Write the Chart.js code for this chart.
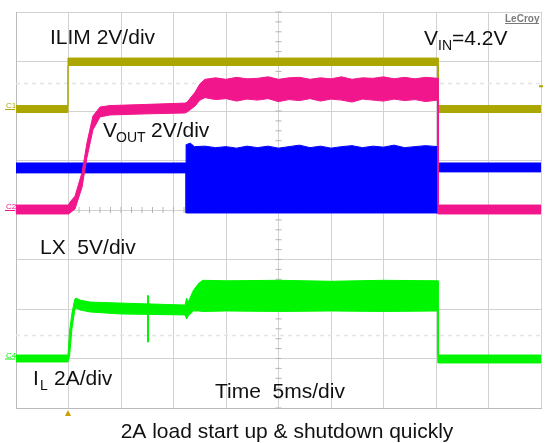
<!DOCTYPE html>
<html><head><meta charset="utf-8">
<script src="https://cdn.jsdelivr.net/npm/chart.js@4.4.1/dist/chart.umd.min.js"></script>
<style>html,body{margin:0;padding:0;background:#fff;}#c{display:block;}</style>
</head><body>
<canvas id="c" width="545" height="443"></canvas>
<script>
// time axis in ms (5 ms/div, 10 div), vertical in divisions (-4..4)
const timeTicks = [0,5,10,15,20,25,30,35,40,45,50];

// ILIM (2V/div) envelope
const ilimT  = [0, 4.95, 4.95, 40.2, 40.2, 50];
const ilimHi = [2.11, 2.11, 3.07, 3.07, 2.11, 2.11];
const ilimLo = [1.97, 1.97, 2.92, 2.92, 1.97, 1.97];

// VOUT (2V/div) envelope
const voutT  = [0, 5.0, 5.14, 5.62, 6.29, 6.76, 7.33, 8.0, 8.95, 12.0, 16.1, 16.3, 17.05, 17.52, 18.0,
                19, 20, 21, 22, 23, 24, 25, 26, 27, 28, 29, 30, 31, 32, 33, 34, 35, 36, 37, 38, 39, 40.2, 40.2, 50];
const voutHi = [0.10, 0.10, 0.16, 0.28, 0.76, 1.36, 1.90, 2.08, 2.11, 2.13, 2.16, 2.18, 2.38, 2.55, 2.64,
                2.67, 2.64, 2.68, 2.65, 2.66, 2.69, 2.64, 2.67, 2.68, 2.64, 2.67, 2.65, 2.69, 2.64, 2.67, 2.66, 2.69, 2.65, 2.68, 2.65, 2.68, 2.66, 0.10, 0.10];
const voutLo = [-0.08, -0.08, -0.06, 0.02, 0.46, 1.06, 1.62, 1.88, 1.92, 1.94, 1.96, 1.98, 2.10, 2.22, 2.27,
                2.23, 2.25, 2.20, 2.24, 2.22, 2.25, 2.19, 2.23, 2.21, 2.25, 2.20, 2.24, 2.22, 2.18, 2.24, 2.22, 2.20, 2.24, 2.21, 2.23, 2.19, 2.22, -0.08, -0.08];

// LX (5V/div) envelope
const lxT  = [0, 16.2, 16.2, 16.6, 17, 18, 19, 20, 21, 22, 23, 24, 25, 26, 27, 28, 29, 30, 31, 32, 33, 34, 35, 36, 37, 38, 39, 40.2, 40.2, 50];
const lxHi = [0.95, 0.95, 1.32, 1.35, 1.28, 1.29, 1.26, 1.28, 1.25, 1.29, 1.26, 1.29, 1.25, 1.28, 1.31, 1.26, 1.29, 1.25, 1.28, 1.30, 1.26, 1.29, 1.27, 1.31, 1.26, 1.28, 1.30, 1.28, 0.95, 0.95];
const lxLo = [0.75, 0.75, -0.06, -0.06, -0.06, -0.06, -0.06, -0.06, -0.06, -0.06, -0.06, -0.06, -0.06, -0.06, -0.06, -0.06, -0.06, -0.06, -0.06, -0.06, -0.06, -0.06, -0.06, -0.06, -0.06, -0.06, -0.06, -0.06, 0.77, 0.77];

// IL (2A/div) envelope
const ilT  = [0, 4.95, 5.1, 5.33, 5.6, 5.71, 6.1, 7.05, 9.9, 16.1, 16.25, 16.4, 16.9, 17.4, 17.8, 20, 25, 30, 35, 40.2, 40.2, 50];
const ilHi = [-2.93, -2.93, -2.45, -2.08, -1.80, -1.78, -1.82, -1.86, -1.88, -1.92, -1.78, -1.86, -1.62, -1.48, -1.42, -1.43, -1.42, -1.44, -1.42, -1.43, -2.93, -2.93];
const ilLo = [-3.07, -3.07, -2.95, -2.40, -2.02, -1.98, -2.02, -2.06, -2.10, -2.12, -2.20, -2.14, -2.04, -2.04, -2.05, -2.04, -2.05, -2.04, -2.05, -2.04, -3.09, -3.09];
// IL glitch
const ilSpikeT = [12.57, 12.57];
const ilSpikeV = [-1.72, -2.67];

const colIlim = '#aba700';
const colVout = '#f2168c';
const colLx   = '#0000ff';
const colIl   = '#00f500';

function pts(t, v){ return t.map((x,i)=>({x:x, y:v[i]})); }
function band(label, t, hi, lo, color, order){
  return [
    {label:label+' hi', data:pts(t,hi), borderColor:color, backgroundColor:color, borderWidth:1, fill:false, order:order},
    {label:label+' lo', data:pts(t,lo), borderColor:color, backgroundColor:color, borderWidth:1, fill:'-1', order:order}
  ];
}

const datasets = [].concat(
  band('ILIM', ilimT, ilimHi, ilimLo, colIlim, 4),
  band('VOUT', voutT, voutHi, voutLo, colVout, 1),
  band('LX', lxT, lxHi, lxLo, colLx, 3),
  band('IL', ilT, ilHi, ilLo, colIl, 2),
  [{label:'IL spike', data:pts(ilSpikeT, ilSpikeV), borderColor:colIl, borderWidth:2, fill:false, order:2}]
);

const FONT = '"Liberation Sans", Arial, sans-serif';

const scopeDecor = {
  id:'scopeDecor',
  beforeDatasetsDraw(chart){
    const {ctx, scales:{x,y}, chartArea:a} = chart;
    ctx.save();
    // faint reference dashes
    ctx.strokeStyle = '#e4e4e4'; ctx.lineWidth = 1.5; ctx.setLineDash([4,4]);
    [2.57, -2.53].forEach(v=>{ const py = Math.round(y.getPixelForValue(v))+0.5; ctx.beginPath(); ctx.moveTo(a.left,py); ctx.lineTo(a.right,py); ctx.stroke(); });
    ctx.setLineDash([]);
    // minor ticks on centre axes
    ctx.strokeStyle = '#b4b4b4'; ctx.lineWidth = 1;
    const cx = x.getPixelForValue(25), cy = y.getPixelForValue(0);
    for (let v=-4; v<=4.001; v+=0.2){ const py = y.getPixelForValue(v); ctx.beginPath(); ctx.moveTo(cx-3,py); ctx.lineTo(cx+3,py); ctx.stroke(); }
    for (let t=0; t<=50.001; t+=1){ const px = x.getPixelForValue(t); ctx.beginPath(); ctx.moveTo(px,cy-3); ctx.lineTo(px,cy+3); ctx.stroke(); }
    ctx.restore();
  },
  afterDraw(chart){
    const {ctx, scales:{x,y}, chartArea:a} = chart;
    ctx.save();
    ctx.fillStyle = '#111';
    ctx.textBaseline = 'alphabetic';
    ctx.textAlign = 'left';
    const big = '21px '+FONT, small = '14px '+FONT;
    ctx.font = big; ctx.fillText('ILIM 2V/div', 50, 44);
    // VOUT
    ctx.font = big; ctx.fillText('V', 103, 137);
    ctx.font = small; ctx.fillText('OUT', 116, 142);
    ctx.font = big; ctx.fillText('2V/div', 151, 137);
    // VIN
    ctx.font = big; ctx.fillText('V', 424, 45);
    ctx.font = small; ctx.fillText('IN', 438, 50);
    ctx.font = big; ctx.fillText('=4.2V', 452, 45);
    // LX
    ctx.font = big; ctx.fillText('LX  5V/div', 40, 254);
    // IL
    ctx.font = big; ctx.fillText('I', 33, 385);
    ctx.font = small; ctx.fillText('L', 40, 390);
    ctx.font = big; ctx.fillText('2A/div', 54, 385);
    // Time
    ctx.font = big; ctx.fillText('Time  5ms/div', 215, 398);
    // caption
    ctx.textAlign = 'center';
    ctx.fillText('2A load start up & shutdown quickly', 287, 438);
    // LeCroy logo
    ctx.textAlign = 'left';
    ctx.fillStyle = '#7a7a7a'; ctx.font = 'bold 10px '+FONT;
    ctx.fillText('LeCroy', 505, 22);
    ctx.fillRect(505, 23, 34, 1);
    // channel markers
    ctx.font = '8px '+FONT;
    [['C1', colIlim, 2.04], ['C2', colVout, 0.0], ['C4', colIl, -3.0]].forEach(([t,c,v])=>{
      const py = y.getPixelForValue(v);
      ctx.fillStyle = c; ctx.fillText(t, 6, py-1); ctx.fillRect(5, py, 10, 1);
    });
    ctx.fillStyle = colIlim; ctx.fillRect(a.right-2, y.getPixelForValue(2.52), 4, 2);
    // trigger marker
    const tx = x.getPixelForValue(4.95);
    ctx.fillStyle = '#c9a100';
    ctx.beginPath(); ctx.moveTo(tx, a.bottom+2); ctx.lineTo(tx-3, a.bottom+8); ctx.lineTo(tx+3, a.bottom+8); ctx.closePath(); ctx.fill();
    ctx.restore();
  }
};

new Chart(document.getElementById('c'), {
  type:'line',
  data:{ datasets: datasets },
  options:{
    responsive:false, animation:false,
    layout:{ padding:{ left:16, right:4, top:12, bottom:35 } },
    elements:{ point:{ radius:0 }, line:{ tension:0 } },
    plugins:{ legend:{ display:false }, tooltip:{ enabled:false } },
    scales:{
      x:{ type:'linear', min:0, max:50,
          afterBuildTicks(s){ s.ticks = timeTicks.map(v=>({value:v})); },
          ticks:{ display:false }, grid:{ color:'#d2d2d2', lineWidth:1, drawTicks:false },
          border:{ display:true, color:'#bbbbbb', width:1 } },
      y:{ type:'linear', min:-4, max:4,
          ticks:{ display:false, stepSize:1 }, grid:{ color:'#d2d2d2', lineWidth:1, drawTicks:false },
          border:{ display:true, color:'#bbbbbb', width:1 } }
    }
  },
  plugins:[scopeDecor]
});
</script>
</body></html>
